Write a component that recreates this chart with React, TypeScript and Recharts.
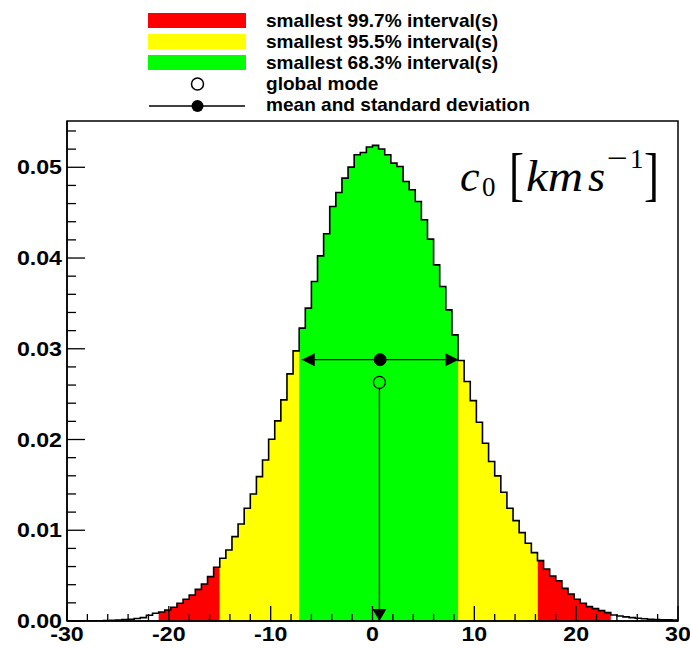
import React from 'react'
import { ComposedChart, Area, Line, XAxis, YAxis, ReferenceLine, ReferenceDot } from 'recharts'

// histogram: 100 bins of width 0.6 between -30 and 30, heights
const X_MIN = -30
const X_MAX = 30
const BIN_WIDTH = 0.6
const Y_MAX = 0.0551

const binHeights = [
  0, 0, 0, 0, 0,
  0.00002, 0.00004, 0.00007, 0.0001, 0.00015, 0.0002, 0.00027,
  0.00037, 0.00063, 0.00085,
  0.00099, 0.00121, 0.00151, 0.00195, 0.00239, 0.00287, 0.00349, 0.00408, 0.00489, 0.00592,
  0.00691, 0.00783, 0.0093, 0.01069, 0.01242, 0.014, 0.01591, 0.01775, 0.02003, 0.02205, 0.02437, 0.02723, 0.02977,
  0.03227, 0.03448, 0.03741, 0.04024, 0.04267, 0.04568, 0.04722, 0.04881, 0.05002, 0.05138, 0.05163, 0.05223, 0.05241,
  0.05201, 0.05138, 0.05046, 0.05009, 0.04844, 0.04752, 0.04623, 0.04421, 0.04208, 0.03925, 0.03686, 0.03429, 0.03153,
  0.0287, 0.02639, 0.02429, 0.0219, 0.01959, 0.01757, 0.01599, 0.01419, 0.01242, 0.01106, 0.00974, 0.00857, 0.00753,
  0.00665, 0.00573, 0.00496, 0.00444, 0.0036, 0.00298, 0.00239, 0.00195, 0.00158, 0.00136, 0.00114, 0.00092,
  0.00066, 0.00055, 0.00045, 0.00037, 0.0003, 0.00025, 0.0002, 0.00017, 0.00014, 0.00012, 0.0001,
]

// smallest intervals
const interval683 = [-7.2, 8.4]
const interval955 = [-15.0, 16.2]
const interval997 = [-21.0, 23.4]

// mean +- std and global mode
const MEAN = 0.75
const STD = 7.7
const MEAN_Y = 0.0288
const MODE = 0.68
const MODE_Y = 0.0263

const xTicks = [-30, -28, -26, -24, -22, -20, -18, -16, -14, -12, -10, -8, -6, -4, -2, 0, 2, 4, 6, 8, 10, 12, 14, 16, 18, 20, 22, 24, 26, 28, 30]
const xLabels = [-30, -20, -10, 0, 10, 20, 30]
const yTicks = [0, 0.002, 0.004, 0.006, 0.008, 0.01, 0.012, 0.014, 0.016, 0.018, 0.02, 0.022, 0.024, 0.026, 0.028, 0.03, 0.032, 0.034, 0.036, 0.038, 0.04, 0.042, 0.044, 0.046, 0.048, 0.05, 0.052, 0.054]
const yLabels = [0, 0.01, 0.02, 0.03, 0.04, 0.05]

const legendItems = ['smallest 99.7% interval(s)', 'smallest 95.5% interval(s)', 'smallest 68.3% interval(s)', 'global mode', 'mean and standard deviation']

const RED = '#ff0000'
const YELLOW = '#ffff00'
const GREEN = '#00ff00'
const SANS = '"Liberation Sans", Arial, Helvetica, sans-serif'
const SERIF = '"Liberation Serif", "Times New Roman", serif'

const inside = (c: number, r: number[]) => c > r[0] && c < r[1]

const bandOf = (i: number) => {
  const c = X_MIN + (i + 0.5) * BIN_WIDTH
  if (inside(c, interval683)) return 'green'
  if (inside(c, interval955)) return 'yellow'
  if (inside(c, interval997)) return 'red'
  return null
}

const n = binHeights.length
const histData = Array.from({ length: n + 1 }, (_, k) => {
  const row: Record<string, number | null> = {
    x: +(X_MIN + k * BIN_WIDTH).toFixed(2),
    h: binHeights[Math.min(k, n - 1)],
  }
  for (const band of ['red', 'yellow', 'green']) {
    const cur = k < n && bandOf(k) === band
    const prev = k > 0 && bandOf(k - 1) === band
    row[band] = cur ? binHeights[k] : prev ? binHeights[k - 1] : null
  }
  return row
})

function XTick(props: any) {
  const { x, y, payload } = props
  const major = xLabels.includes(payload.value)
  return (
    <g>
      <line x1={x} y1={y} x2={x} y2={y - (major ? 15 : 7)} stroke="#000" strokeWidth={1.3} />
      {major && (
        <text transform={`translate(${x} ${y + 20}) scale(1.16 1)`} textAnchor="middle" fontFamily={SANS} fontWeight="bold" fontSize={20} fill="#000">
          {payload.value}
        </text>
      )}
    </g>
  )
}

function YTick(props: any) {
  const { x, y, payload } = props
  const major = yLabels.some(v => Math.abs(v - payload.value) < 1e-9)
  return (
    <g>
      <line x1={x} y1={y} x2={x + (major ? 18 : 9)} y2={y} stroke="#000" strokeWidth={1.3} />
      {major && (
        <text transform={`translate(${x - 5} ${y + 7}) scale(1.16 1)`} textAnchor="end" fontFamily={SANS} fontWeight="bold" fontSize={20} fill="#000">
          {payload.value.toFixed(2)}
        </text>
      )}
    </g>
  )
}

const leftArrow = (p: any) => <polygon points={`${p.cx},${p.cy} ${p.cx + 13},${p.cy - 6.5} ${p.cx + 13},${p.cy + 6.5}`} fill="#000" />
const rightArrow = (p: any) => <polygon points={`${p.cx},${p.cy} ${p.cx - 13},${p.cy - 6.5} ${p.cx - 13},${p.cy + 6.5}`} fill="#000" />
const downArrow = (p: any) => <polygon points={`${p.cx},${p.cy} ${p.cx - 7},${p.cy - 12} ${p.cx + 7},${p.cy - 12}`} fill="#000" />

function Overlay() {
  const boxes = [RED, YELLOW, GREEN]
  const rowY = [27.3, 48.3, 69.3, 90, 111]
  return (
    <svg width={690} height={648} style={{ position: 'absolute', left: 0, top: 0, pointerEvents: 'none' }}>
      {/* frame */}
      <rect x={67} y={121} width={611} height={500} fill="none" stroke="#000" strokeWidth={1.5} />
      {/* legend */}
      {boxes.map((c, i) => (
        <rect key={c} x={148} y={13 + i * 21} width={98} height={15} fill={c} />
      ))}
      <circle cx={197.5} cy={84} r={6} fill="#fff" stroke="#000" strokeWidth={1.5} />
      <line x1={149} y1={106} x2={245} y2={106} stroke="#000" strokeWidth={1.3} />
      <circle cx={197.5} cy={106} r={6} fill="#000" />
      {legendItems.map((t, i) => (
        <text key={t} transform={`translate(266 ${rowY[i]}) scale(1.09 1)`} fontFamily={SANS} fontWeight="bold" fontSize={17.5} fill="#000">
          {t}
        </text>
      ))}
      {/* variable label */}
      <g fontFamily={SERIF} fill="#000">
        <text x={460} y={191} fontStyle="italic" fontSize={44}>c</text>
        <text x={482} y={196} fontSize={27}>0</text>
        <text transform="translate(509 194) scale(0.75 1)" fontSize={60}>[</text>
        <text x={526} y={191} fontStyle="italic" fontSize={44} textLength={57} lengthAdjust="spacingAndGlyphs">km</text>
        <text x={588} y={191} fontStyle="italic" fontSize={44}>s</text>
        <text x={607} y={168} fontSize={30} textLength={21} lengthAdjust="spacingAndGlyphs">−</text>
        <text x={630} y={168} fontSize={27}>1</text>
        <text transform="translate(644 194) scale(0.75 1)" fontSize={60}>]</text>
      </g>
    </svg>
  )
}

export default function App() {
  return (
    <div style={{ position: 'absolute', left: 0, top: 0, width: 690, height: 648, background: '#fff' }}>
      <ComposedChart width={690} height={648} data={histData} margin={{ top: 121, right: 12, bottom: 0, left: 0 }}>
        <XAxis
          type="number"
          dataKey="x"
          domain={[X_MIN, X_MAX]}
          ticks={xTicks}
          interval={0}
          height={27}
          tickSize={0}
          tickMargin={0}
          tickLine={false}
          axisLine={{ stroke: '#000', strokeWidth: 1.5 }}
          tick={(p: any) => <XTick {...p} />}
          allowDataOverflow
        />
        <YAxis
          type="number"
          domain={[0, Y_MAX]}
          ticks={yTicks}
          interval={0}
          width={67}
          tickSize={0}
          tickMargin={0}
          tickLine={false}
          axisLine={{ stroke: '#000', strokeWidth: 1.5 }}
          tick={(p: any) => <YTick {...p} />}
          allowDataOverflow
        />
        <Area type="stepAfter" dataKey="red" fill={RED} fillOpacity={1} stroke="none" connectNulls={false} isAnimationActive={false} />
        <Area type="stepAfter" dataKey="yellow" fill={YELLOW} fillOpacity={1} stroke="none" connectNulls={false} isAnimationActive={false} />
        <Area type="stepAfter" dataKey="green" fill={GREEN} fillOpacity={1} stroke="none" connectNulls={false} isAnimationActive={false} />
        <Line type="stepAfter" dataKey="h" stroke="#000" strokeWidth={1.6} dot={false} isAnimationActive={false} />
        <ReferenceLine segment={[{ x: MEAN - STD, y: MEAN_Y }, { x: MEAN + STD, y: MEAN_Y }]} stroke="#000" strokeWidth={1.3} />
        <ReferenceLine segment={[{ x: MODE, y: 0 }, { x: MODE, y: MODE_Y }]} stroke="#000" strokeWidth={1.3} />
        <ReferenceDot x={MEAN - STD} y={MEAN_Y} r={6} shape={leftArrow} />
        <ReferenceDot x={MEAN + STD} y={MEAN_Y} r={6} shape={rightArrow} />
        <ReferenceDot x={MODE} y={0} r={6} shape={downArrow} />
        <ReferenceDot x={MEAN} y={MEAN_Y} r={6} fill="#000" stroke="#000" strokeWidth={1} />
        <ReferenceDot x={MODE} y={MODE_Y} r={6} fill={GREEN} stroke="#000" strokeWidth={1.3} />
      </ComposedChart>
      <Overlay />
    </div>
  )
}
